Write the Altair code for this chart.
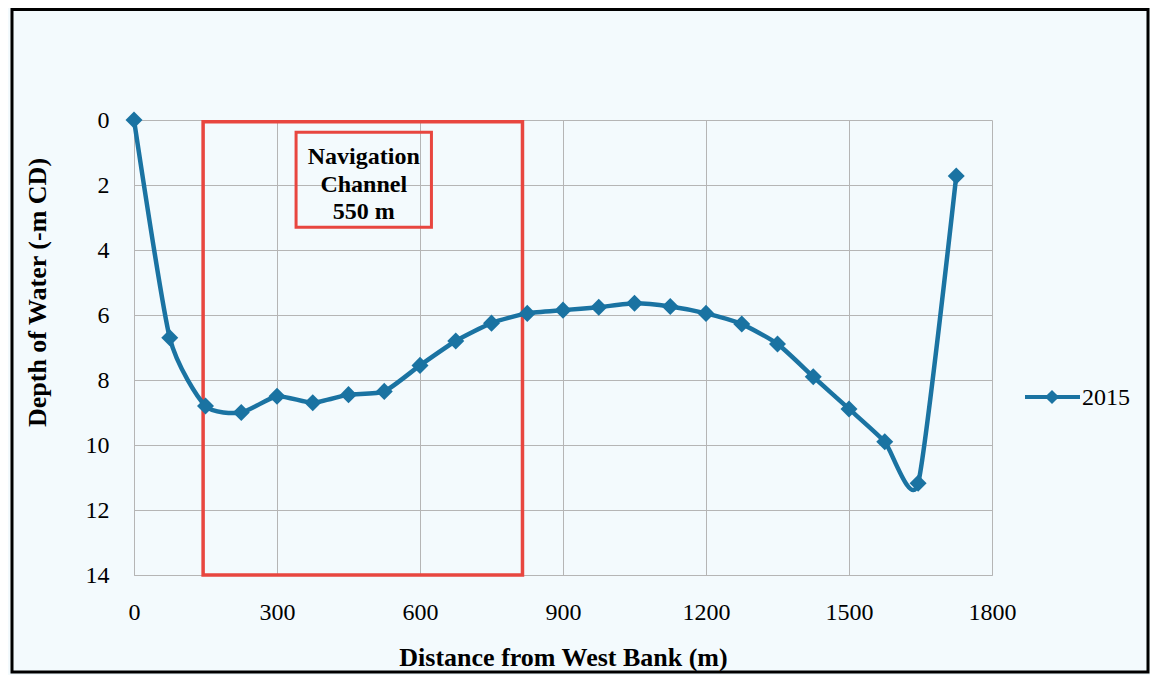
import altair as alt
import pandas as pd

# ---- data ----
distance = [0, 75, 150, 225, 300, 375, 450, 525, 600, 675, 750, 825,
            900, 975, 1050, 1125, 1200, 1275, 1350, 1425, 1500, 1575, 1645, 1725]
depth = [0.0, 6.7, 8.8, 9.0, 8.5, 8.7, 8.45, 8.35, 7.55, 6.8, 6.25, 5.95,
         5.85, 5.76, 5.64, 5.74, 5.95, 6.28, 6.89, 7.9, 8.89, 9.9, 11.18, 1.72]
series_name = ["2015"]

x_ticks = [0, 300, 600, 900, 1200, 1500, 1800]
y_ticks = [0, 2, 4, 6, 8, 10, 12, 14]

channel_x = [145, 815]
channel_y = [0.05, 14]
box_x = [340, 624]
box_y = [0.38, 3.3]
label_lines = ["Navigation", "Channel", "550 m"]
label_x = [482, 482, 482]
label_y = [1.14, 1.99, 2.82]

X_TITLE = "Distance from West Bank (m)"
Y_TITLE = "Depth of Water (-m CD)"

LINE = "#1a73a2"
RED = "#e8463f"
GRID = "#b5b5b5"
BG = "#f3fafd"
FONT = "Liberation Serif"

xscale = alt.Scale(domain=[0, 1800], nice=False, zero=False)
yscale = alt.Scale(domain=[0, 14], reverse=True, nice=False, zero=False)

xaxis = alt.Axis(values=x_ticks, format="d", labelPadding=25, labelFlush=False,
                 title=X_TITLE, titleY=90, titleBaseline="alphabetic", grid=True)
yaxis = alt.Axis(values=y_ticks, format="d", labelPadding=25, labelFlush=False,
                 title=Y_TITLE, titleX=-89, titleY=172, titleAngle=-90,
                 titleAlign="center", titleBaseline="alphabetic", grid=True)


def X(field):
    return alt.X(field, type="quantitative", scale=xscale, axis=xaxis, title=X_TITLE)


def Y(field):
    return alt.Y(field, type="quantitative", scale=yscale, axis=yaxis, title=Y_TITLE)


profile = pd.DataFrame({"distance": distance, "depth": depth})

line = alt.Chart(profile).mark_line(
    interpolate="cardinal", tension=0.4, color=LINE, strokeWidth=4.5
).encode(x=X("distance"), y=Y("depth"))

points = alt.Chart(profile).mark_point(
    shape="diamond", filled=True, size=290, color=LINE, opacity=1
).encode(x=X("distance"), y=Y("depth"))

channel = alt.Chart(pd.DataFrame({
    "x1": [channel_x[0]], "x2": [channel_x[1]],
    "y1": [channel_y[0]], "y2": [channel_y[1]]
})).mark_rect(fillOpacity=0, stroke=RED, strokeWidth=3.5).encode(
    x=X("x1"), x2=alt.X2("x2", title=X_TITLE),
    y=Y("y1"), y2=alt.Y2("y2", title=Y_TITLE)
)

box = alt.Chart(pd.DataFrame({
    "x1": [box_x[0]], "x2": [box_x[1]],
    "y1": [box_y[0]], "y2": [box_y[1]]
})).mark_rect(fillOpacity=0, stroke=RED, strokeWidth=3).encode(
    x=X("x1"), x2=alt.X2("x2", title=X_TITLE),
    y=Y("y1"), y2=alt.Y2("y2", title=Y_TITLE)
)

label = alt.Chart(pd.DataFrame({
    "x": label_x, "y": label_y, "text": label_lines
})).mark_text(font=FONT, fontSize=24, fontWeight="bold", color="black",
              align="center", baseline="middle").encode(
    x=X("x"), y=Y("y"), text="text:N"
)

legend_df = pd.DataFrame({"series": series_name})
leg_line = alt.Chart(legend_df).mark_rule(color=LINE, strokeWidth=4).encode(
    x=alt.value(891), x2=alt.value(946), y=alt.value(277)
)
leg_pt = alt.Chart(legend_df).mark_point(
    shape="diamond", filled=True, size=200, color=LINE, opacity=1
).encode(x=alt.value(918), y=alt.value(277))
leg_txt = alt.Chart(legend_df).mark_text(
    font=FONT, fontSize=24, color="black", align="left", baseline="middle"
).encode(x=alt.value(948), y=alt.value(278), text="series:N")

frame = alt.Chart(legend_df).mark_rect(
    fillOpacity=0, stroke="black", strokeWidth=3
).encode(x=alt.value(-122), x2=alt.value(1014),
         y=alt.value(-110.5), y2=alt.value(552))

chart = alt.layer(
    channel, box, line, points, label, leg_line, leg_pt, leg_txt, frame
).properties(
    width=858, height=455,
    padding={"left": 126, "top": 112, "right": 158, "bottom": 100},
    autosize="none",
    background=BG,
).configure_view(strokeWidth=0).configure_axis(
    labelFont=FONT, labelFontSize=24, labelColor="black",
    titleFont=FONT, titleFontSize=26, titleFontWeight="bold", titleColor="black",
    gridColor=GRID, gridWidth=1, domainColor=GRID, domainWidth=1, ticks=False,
)

chart.save("out.html", embed_options={"renderer": "svg", "actions": False})
